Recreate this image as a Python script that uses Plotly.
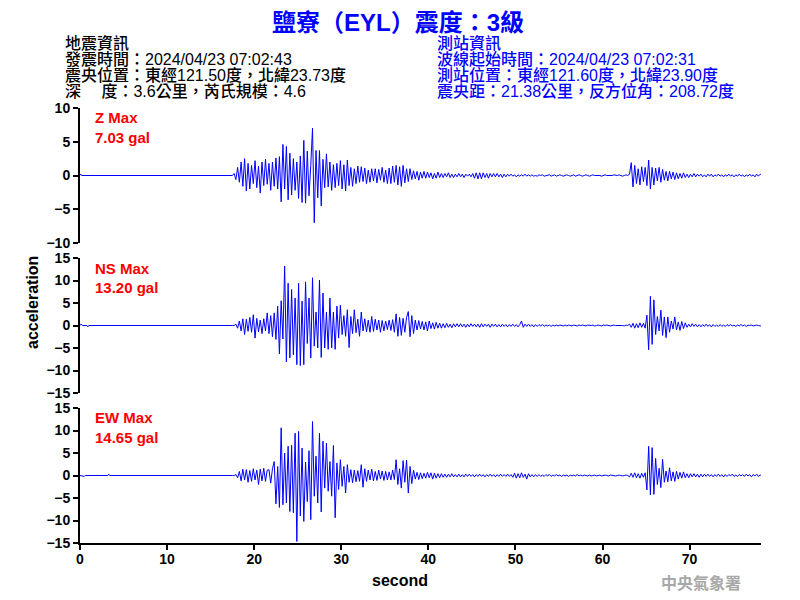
import numpy as np
import plotly.graph_objects as go
from plotly.subplots import make_subplots

# ---------------- data ----------------
SAMPLE_START = 17.7   # s, first sample of the event window
SAMPLE_STEP = 0.2     # s
X_END = 78.2

component_names = ["Z", "NS", "EW"]
max_values = ["7.03", "13.20", "14.65"]
y_limits = [10, 15, 15]
y_ticks = [[-10, -5, 0, 5, 10], [-15, -10, -5, 0, 5, 10, 15], [-15, -10, -5, 0, 5, 10, 15]]
x_ticks = [0, 10, 20, 30, 40, 50, 60, 70]

z_pre_t = [0.0, 0.1, 0.2, 17.5]
z_pre_v = [0.0, 0.2, 0.0, 0.0]
ns_pre_t = [0.0, 0.1, 0.3, 0.8, 0.9, 1.0, 17.5]
ns_pre_v = [0.0, 0.3, 0.0, 0.0, -0.3, 0.0, 0.0]
ew_pre_t = [0.0, 0.5, 0.6, 3.2, 3.3, 3.4, 17.5]
ew_pre_v = [0.0, -0.2, 0.0, 0.0, 0.3, 0.0, 0.0]

z_vals = [
    0.3, -0.6, 1.2, -1.0, 2.0, -1.6, 2.5, -2.3, 1.8, -2.0,
    1.5, -1.2, 2.2, -1.8, 1.4, -2.6, 2.0, -1.5, 2.4, -1.3,
    1.8, -2.2, 2.0, -1.6, 2.6, -2.0, 2.8, -3.9, 4.6, -2.0,
    4.3, -3.6, 3.3, -2.9, 2.5, -2.2, 2.0, -3.4, 2.9, -4.0,
    5.2, -4.1, 3.6, -3.0, 1.5, 7.03, -7.0, 3.7, -3.3, 3.7,
    -4.5, 2.4, -1.8, 3.2, -1.7, 2.0, -2.2, 1.6, -1.8, 1.8,
    -1.5, 2.2, -2.0, 1.6, -2.3, 2.3, -1.5, 1.2, -1.6, 1.0,
    -1.2, 1.4, -1.0, 1.3, -0.9, 1.1, -1.2, 0.8, -1.0, 1.0,
    -0.8, 1.0, -1.1, 0.9, -0.7, 1.2, -1.0, 0.8, -1.2, 1.1,
    -1.2, 1.4, -1.0, 1.5, -1.4, 1.3, -1.6, 1.5, -1.1, 1.0,
    -0.9, 1.0, -0.6, 0.7, -0.5, 0.6, -0.7, 0.5, -0.4, 0.6,
    -0.4, 0.5, -0.3, 0.4, -0.5, 0.3, -0.4, 0.5, -0.3, 0.3,
    -0.3, 0.3, -0.2, 0.4, -0.3, 0.2, -0.3, 0.2, -0.2, 0.3,
    -0.2, 0.2, -0.3, 0.2, -0.1, 0.2, -0.2, 0.3, -0.4, 0.4,
    -0.5, 0.4, -0.5, 0.4, -0.3, 0.3, -0.4, 0.3, -0.2, 0.3,
    -0.2, 0.3, -0.2, 0.2, -0.3, 0.2, -0.2, 0.2, -0.1, 0.2,
    -0.1, 0.1, -0.2, 0.1, -0.1, 0.1, -0.1, 0.2, -0.1, 0.1,
    -0.1, 0.1, -0.1, 0.0, -0.1, 0.1, 0.0, 0.1, -0.1, 0.0,
    0.0, 0.1, -0.1, 0.0, 0.1, -0.1, 0.0, 0.1, 0.0, -0.1,
    0.0, 0.1, 0.0, -0.1, 0.0, 0.1, -0.1, 0.0, 0.1, 0.0,
    -0.1, 0.0, 0.1, 0.0, -0.1, 0.0, 0.1, 0.0, 0.0, 0.1,
    0.0, -0.1, 0.0, 0.1, 0.0, 0.0, -0.1, 0.0, 0.1, 0.0,
    0.0, 0.1, 0.0, -0.1, 0.0, 0.1, 0.0, 0.2, 1.9, -1.7,
    1.5, -1.2, 1.0, -1.4, 1.3, -0.9, 1.2, -1.5, 2.3, -2.0,
    1.2, -1.4, 1.1, -0.8, 1.2, -1.0, 0.9, -0.7, 0.6, -0.8,
    0.6, -0.5, 0.5, -0.6, 0.4, -0.5, 0.3, -0.4, 0.4, -0.3,
    0.2, -0.3, 0.2, -0.2, 0.3, -0.2, 0.2, -0.1, 0.2, -0.2,
    0.1, -0.2, 0.2, -0.1, 0.2, -0.2, 0.1, -0.1, 0.2, -0.1,
    0.1, -0.2, 0.1, -0.1, 0.2, -0.1, 0.1, -0.2, 0.1, -0.1,
    0.2, -0.1, 0.1, -0.2, 0.1, -0.1, 0.2, -0.1, 0.1, -0.2,
    0.2, -0.1, 0.2, 0.1,
]

ns_vals = [
    0.0, 0.3, -0.6, 1.0, -1.2, 1.5, -2.0, 1.4, -1.3, 1.8,
    -1.5, 2.4, -2.8, 1.6, -1.4, 1.2, -1.8, 1.5, -1.2, 2.8,
    -1.8, 2.2, -2.5, 2.8, -3.1, 4.3, -6.3, 5.5, -3.0, 13.2,
    -8.1, 9.4, -7.2, 8.0, -6.5, 6.1, -8.7, 9.4, -8.9, 5.4,
    -8.7, 9.7, -4.0, 6.1, -7.2, 10.6, -4.6, 3.0, -5.0, 10.1,
    -7.1, 7.2, -5.0, 3.0, -5.3, 6.1, -5.0, 3.0, -5.3, 4.3,
    -2.8, 4.5, -2.0, 2.2, -2.4, 3.5, -4.9, 2.0, -1.8, 3.5,
    -1.6, 1.4, -2.4, 3.0, -1.2, 1.5, -1.4, 1.2, -1.5, 2.0,
    -1.3, 1.4, -1.0, 1.2, -1.5, 1.1, -1.2, 1.0, -0.9, 1.2,
    -1.1, 1.3, -1.5, 2.6, -2.4, 1.8, -2.2, 1.6, -1.5, 1.8,
    3.1, -2.5, 2.2, -1.8, 1.2, -1.0, 1.1, -0.8, 0.9, -1.0,
    0.8, -1.2, 1.0, -0.7, 0.6, -0.8, 0.7, -0.6, 0.5, -0.6,
    0.4, -0.5, 0.5, -0.4, 0.3, -0.5, 0.4, -0.3, 0.4, -0.3,
    0.4, -0.3, 0.3, -0.4, 0.3, -0.3, 0.4, -0.2, 0.3, -0.3,
    0.3, -0.4, 0.4, -0.3, 0.3, -0.2, 0.3, -0.4, 0.3, -0.2,
    0.3, -0.3, 0.2, -0.3, 0.3, -0.2, 0.2, -0.3, 0.2, -0.2,
    0.3, -0.2, 0.2, -0.3, 0.2, 1.0, -0.4, 0.3, -0.2, 0.3,
    -0.2, 0.2, -0.3, 0.2, -0.2, 0.2, -0.1, 0.2, -0.2, 0.1,
    -0.1, 0.1, -0.2, 0.1, -0.1, 0.1, -0.1, 0.1, 0.0, -0.1,
    0.1, -0.1, 0.1, 0.0, -0.1, 0.1, 0.0, -0.1, 0.1, 0.0,
    0.1, 0.0, -0.1, 0.1, 0.0, 0.0, 0.1, -0.1, 0.0, 0.1,
    0.0, -0.1, 0.1, 0.0, 0.1, 0.0, -0.1, 0.0, 0.1, 0.0,
    0.0, 0.1, 0.0, 0.0, -0.1, 0.1, 0.0, 0.3, -0.4, 0.5,
    -0.6, 0.4, -0.5, 0.6, -0.4, 0.5, -0.6, 2.3, -5.4, 6.5,
    -4.2, 5.7, -2.0, 2.0, -1.2, 3.4, -2.2, 1.9, -2.7, 1.9,
    -1.5, 1.0, -0.8, 1.9, -1.0, 0.8, -1.1, 0.9, -0.7, 0.6,
    -0.4, 0.3, -0.3, 0.4, -0.2, 0.3, -0.3, 0.2, -0.3, 0.2,
    -0.2, 0.3, -0.2, 0.2, -0.3, 0.2, -0.2, 0.1, -0.2, 0.2,
    -0.2, 0.1, -0.2, 0.2, -0.1, 0.2, -0.1, 0.1, -0.2, 0.1,
    -0.1, 0.2, -0.1, 0.1, -0.2, 0.1, 0.0, 0.1, -0.1, 0.0,
    0.1, 0.0, -0.1, 0.0,
]

ew_vals = [
    0.0, 0.2, -0.5, 0.9, -1.2, 1.4, -1.0, 1.3, -1.5, 1.1,
    -1.3, 1.5, -1.0, 1.2, -2.0, 1.4, -1.2, 1.6, -1.3, 1.2,
    1.3, -1.7, 1.5, 3.1, -6.3, 2.0, -7.1, 10.6, -6.5, 5.0,
    -6.1, 6.5, -8.0, 6.7, -8.3, 9.4, -14.65, 9.8, -9.0, 6.1,
    -10.2, 3.0, -5.8, 5.5, -9.8, 12.0, -4.6, 4.3, -6.1, 9.4,
    -8.1, 7.6, -2.8, 7.2, -3.5, 3.1, -4.6, 6.7, -9.4, 2.8,
    -3.1, 3.5, -2.4, 2.0, -3.9, 2.4, -1.5, 1.3, -1.6, 1.2,
    -1.4, 1.1, -1.3, 2.4, -2.6, 1.5, -1.3, 1.2, -1.0, 1.4,
    -1.2, 0.9, -1.1, 1.2, -0.8, 1.0, -1.1, 0.9, -1.0, 0.8,
    -1.0, 1.2, -0.9, 3.5, -2.0, 1.5, -2.8, 3.3, -1.5, 3.4,
    -3.9, 2.0, -1.8, 1.2, -0.8, 0.7, -0.9, 0.6, -0.7, 0.5,
    -0.6, 0.7, -0.5, 0.6, -0.8, 0.5, -0.6, 0.4, -0.5, 0.4,
    -0.4, 0.3, -0.4, 0.3, -0.3, 0.4, -0.3, 0.2, -0.3, 0.3,
    -0.3, 0.2, -0.3, 0.3, -0.2, 0.3, -0.2, 0.2, -0.3, 0.2,
    -0.2, 0.3, -0.2, 0.2, -0.3, 0.2, -0.2, 0.3, -0.2, 0.2,
    -0.3, 0.2, -0.2, 0.3, -0.2, 0.2, -0.2, 0.3, -0.2, 0.2,
    -0.4, 0.5, -0.6, 0.4, -0.5, 0.6, -0.4, 0.3, -0.8, 0.4,
    -0.3, 0.2, -0.3, 0.2, -0.2, 0.2, -0.2, 0.1, -0.2, 0.2,
    -0.1, 0.2, -0.2, 0.1, -0.1, 0.2, -0.1, 0.1, -0.2, 0.1,
    -0.1, 0.1, -0.2, 0.1, -0.1, 0.1, -0.1, 0.2, -0.1, 0.1,
    -0.1, 0.1, 0.0, -0.1, 0.1, -0.1, 0.0, 0.1, -0.1, 0.0,
    0.1, -0.1, 0.0, 0.1, 0.0, -0.1, 0.1, 0.0, 0.0, -0.1,
    0.0, 0.1, 0.0, -0.1, 0.0, 0.1, 0.0, -0.3, 0.5, -0.4,
    0.6, -0.5, 0.4, -0.6, 0.5, -0.4, 0.6, -3.2, 6.5, -4.3,
    6.2, -4.2, 3.8, -2.0, 1.6, -2.7, 3.6, -1.5, 1.0, -1.4,
    1.7, -1.2, 0.8, -1.3, 0.9, -0.8, 0.7, -0.6, 0.8, -0.5,
    0.4, -0.5, 0.4, -0.3, 0.4, -0.3, 0.3, -0.4, 0.3, -0.3,
    0.3, -0.2, 0.3, -0.2, 0.2, -0.3, 0.2, -0.2, 0.3, -0.2,
    0.2, -0.3, 0.2, -0.2, 0.2, -0.1, 0.3, -0.2, 0.1, -0.2,
    0.2, -0.1, 0.2, -0.2, 0.3, -0.1, 0.2, -0.3, 0.2, -0.1,
    0.3, -0.2, 0.1, 0.0,
]

title_text = "鹽寮（EYL）震度：3級"
quake_info = [
    "地震資訊",
    "發震時間：2024/04/23 07:02:43",
    "震央位置：東經121.50度，北緯23.73度",
    "深\u3000 度：3.6公里，芮氏規模：4.6",
]
station_info = [
    "測站資訊",
    "波線起始時間：2024/04/23 07:02:31",
    "測站位置：東經121.60度，北緯23.90度",
    "震央距：21.38公里，反方位角：208.72度",
]
x_title = "second"
y_title = "acceleration"
agency = "中央氣象署"

# ---------------- figure ----------------
OFF = 8                      # page margin of the browser body
W, H = 800 - OFF, 600 - OFF
ML, MT = 80 - OFF, 108 - OFF
PW, PH = 681, 435
MR, MB = W - ML - PW, H - MT - PH

LAT = "Liberation Sans, Arial, Noto Sans CJK TC, sans-serif"
CJK = "Liberation Sans, Arial, Noto Sans CJK TC, sans-serif"


def paper(px, py):
    """screen pixel of the reference -> paper coordinates"""
    return (px - OFF - ML) / PW, 1 - (py - OFF - MT) / PH


def series(pre_t, pre_v, vals):
    t = list(pre_t) + [SAMPLE_START + SAMPLE_STEP * i for i in range(len(vals))]
    v = list(pre_v) + list(vals)
    return t, v


fig = make_subplots(rows=3, cols=1, vertical_spacing=15 / PH)

traces = [(z_pre_t, z_pre_v, z_vals), (ns_pre_t, ns_pre_v, ns_vals), (ew_pre_t, ew_pre_v, ew_vals)]
for r, (pt, pv, vals) in enumerate(traces, start=1):
    t, v = series(pt, pv, vals)
    fig.add_trace(go.Scatter(x=t, y=v, mode="lines", line=dict(color="#0000ff", width=1),
                             showlegend=False, hoverinfo="skip"), row=r, col=1)

tickfont = dict(family=LAT, size=14, color="black", weight="bold")
for r in range(1, 4):
    lim = y_limits[r - 1]
    fig.update_yaxes(row=r, col=1, range=[-lim, lim], tickvals=y_ticks[r - 1],
                     showgrid=False, zeroline=False, showline=True, linecolor="black",
                     linewidth=2, ticks="outside", ticklen=5, tickwidth=2, tickcolor="black",
                     tickfont=tickfont, automargin=False)
    if r < 3:
        fig.update_xaxes(row=r, col=1, range=[0, X_END], showgrid=False, zeroline=False,
                         showline=False, showticklabels=False, ticks="", automargin=False)
    else:
        fig.update_xaxes(row=r, col=1, range=[0, X_END], tickvals=x_ticks, showgrid=False,
                         zeroline=False, showline=True, linecolor="black", linewidth=2,
                         ticks="outside", ticklen=5, tickwidth=2, tickcolor="black",
                         tickfont=tickfont, automargin=False, ticklabelstandoff=-3)

ann = []


def add_text(text, px, py, size, color, xanchor="left", weight="normal", family=CJK, angle=0):
    x, y = paper(px, py)
    ann.append(dict(text=text, x=x, y=y, xref="paper", yref="paper", xanchor=xanchor,
                    yanchor="middle", showarrow=False, textangle=angle, borderpad=0,
                    font=dict(family=family, size=size, color=color, weight=weight)))


add_text(title_text, 398, 23, 24, "#0000ff", xanchor="center", weight="bold")
for i, line in enumerate(quake_info):
    add_text(line, 64, 43 + 16 * i, 16, "black", weight=500)
for i, line in enumerate(station_info):
    add_text(line, 436, 43 + 16 * i, 16, "#0000ff", weight=500)

label_rows = [(118, 137), (268, 287), (417, 437)]
for name, mx, (y1, y2) in zip(component_names, max_values, label_rows):
    add_text(f"{name} Max", 94, y1, 15, "#ff0000", weight="bold", family=LAT)
    add_text(f"{mx} gal", 94, y2, 15, "#ff0000", weight="bold", family=LAT)

add_text(x_title, 400, 580, 16, "black", xanchor="center", weight="bold", family=LAT)
add_text(y_title, 32, 302, 16, "black", xanchor="center", weight="bold", family=LAT, angle=-90)
add_text(agency, 701, 582, 16, "#a8a8a8", xanchor="center", weight="bold",
         family="Noto Sans CJK TC, sans-serif")

fig.update_layout(width=W, height=H, margin=dict(l=ML, r=MR, t=MT, b=MB),
                  paper_bgcolor="white", plot_bgcolor="white", annotations=ann,
                  showlegend=False)

fig.write_html("out.html")
